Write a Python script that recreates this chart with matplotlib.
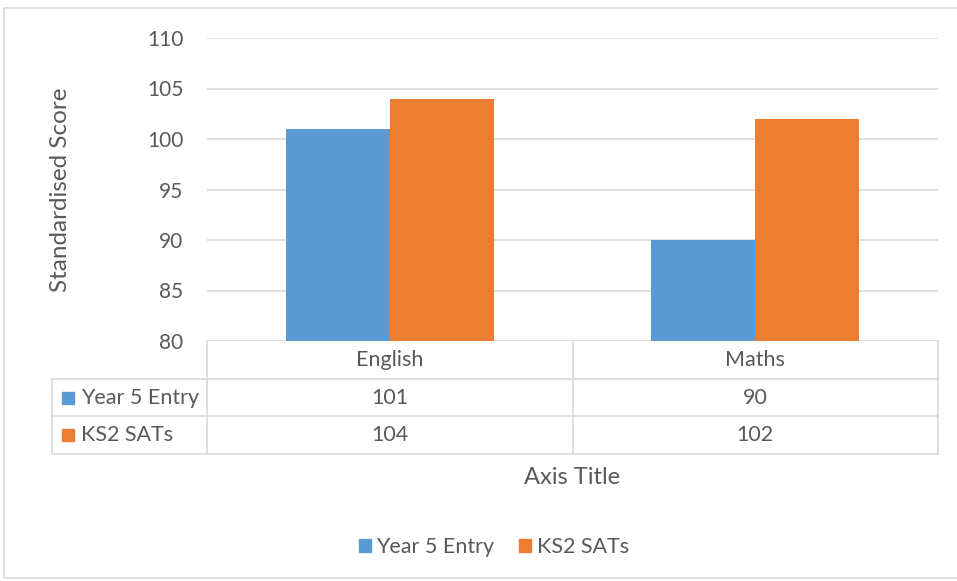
import matplotlib.pyplot as plt
from matplotlib.patches import Rectangle, Patch

# data
categories = ['English', 'Maths']
series_names = ['Year 5 Entry', 'KS2 SATs']
year5 = [101, 90]
ks2 = [104, 102]
colors = ['#5B9BD5', '#ED7D31']

W, H = 957, 581
text_col = '#595959'
grid_col = '#d9d9d9'
plt.rcParams['font.family'] = ['Lato', 'DejaVu Sans']

fig = plt.figure(figsize=(W / 100, H / 100), dpi=100)

# outer chart border
fig.patches.append(Rectangle((4 / W, 1 - 578 / H), 1.2, (578 - 8) / H,
                             transform=fig.transFigure, fill=False,
                             edgecolor=grid_col, lw=1.2))

ax_l, ax_t, ax_r, ax_b = 207, 38, 938, 341
ax = fig.add_axes([ax_l / W, 1 - ax_b / H, (ax_r - ax_l) / W, (ax_b - ax_t) / H])

bw = 0.285
x = list(range(len(categories)))
ax.bar([i - bw / 2 for i in x], year5, width=bw, color=colors[0], zorder=3)
ax.bar([i + bw / 2 for i in x], ks2, width=bw, color=colors[1], zorder=3)

ax.set_xlim(-0.5, len(categories) - 0.5)
ax.set_ylim(80, 110)
ax.set_yticks(range(80, 111, 5))
ax.set_xticks([])
ax.grid(axis='y', color=grid_col, lw=1.2, zorder=0)
for s in ax.spines.values():
    s.set_visible(False)
ax.tick_params(axis='y', length=0, pad=17, labelsize=15, labelcolor=text_col)
ax.set_ylabel('Standardised Score', fontsize=17.5, color=text_col)
ax.yaxis.set_label_coords((71 - ax_l) / (ax_r - ax_l), 0.5)

# data table under the axis
aw, ah = ax_r - ax_l, ax_b - ax_t
def ay(py):
    return -(py - ax_b) / ah
def axx(px):
    return (px - ax_l) / aw

rows = [341, 379, 416, 454]
left = axx(52)
lk = dict(transform=ax.transAxes, color=grid_col, lw=1.2, clip_on=False)
for i, r in enumerate(rows[1:]):
    ax.plot([left, 1], [ay(r), ay(r)], **lk)
ax.plot([left, left], [ay(rows[1]), ay(rows[3])], **lk)
for c in range(len(categories) + 1):
    xc = c / len(categories)
    ax.plot([xc, xc], [ay(rows[0]), ay(rows[3])], **lk)

tk = dict(transform=ax.transAxes, color=text_col, fontsize=15.5, va='center')
for c, cat in enumerate(categories):
    ax.text((c + 0.5) / len(categories), ay((rows[0] + rows[1]) / 2), cat, ha='center', **tk)
for r, (name, vals) in enumerate(zip(series_names, [year5, ks2])):
    yc = ay((rows[r + 1] + rows[r + 2]) / 2)
    sq = 12
    ax.add_patch(Rectangle((axx(62), yc - sq / 2 / ah), sq / aw, sq / ah,
                           transform=ax.transAxes, color=colors[r], clip_on=False))
    ax.text(axx(81), yc, name, ha='left', **tk)
    for c, v in enumerate(vals):
        ax.text((c + 0.5) / len(categories), yc, str(v), ha='center', **tk)

ax.text(0.5, ay(477), 'Axis Title', ha='center', transform=ax.transAxes,
        color=text_col, fontsize=17, va='center')

handles = [Patch(color=colors[0]), Patch(color=colors[1])]
fig.legend(handles, series_names, loc='center', bbox_to_anchor=(494 / W, 1 - 547 / H),
           ncol=2, frameon=False, fontsize=15.5, labelcolor=text_col,
           handlelength=0.55, handleheight=0.55, handletextpad=0.25, columnspacing=1.15)

fig.savefig('out.png', dpi=100)
